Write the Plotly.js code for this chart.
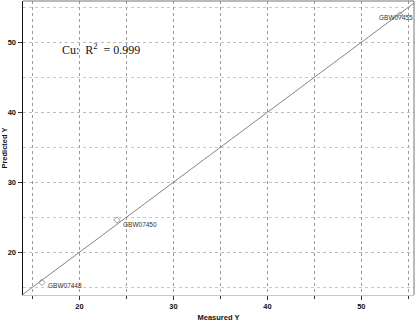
<!DOCTYPE html>
<html>
<head>
<meta charset="utf-8">
<script src="https://cdn.plot.ly/plotly-3.0.1.min.js"></script>
<style>html,body{margin:0;padding:0;background:#fff;}#chart{width:417px;height:322px;}</style>
</head>
<body>
<div id="chart"></div>
<script>
const sampleNames = ["GBW07448", "GBW07450", "GBW07455"];
const measuredY = [16.0, 24.0, 54.1];
const predictedY = [15.7, 24.6, 53.9];
const fitX = [13, 57];
const fitY = [13, 57];
const xTickVals = [20, 30, 40, 50];
const yTickVals = [20, 30, 40, 50];
const r2Text = "Cu:  R<sup>2</sup>  = 0.999";

const labelShift = [[4, -3], [4, -4], [-4, -2]];
const labelAnchor = ["left", "left", "center"];

const traces = [
  {
    x: fitX, y: fitY, mode: "lines", type: "scatter",
    line: {color: "#666666", width: 0.8},
    hoverinfo: "skip", showlegend: false
  },
  {
    x: measuredY, y: predictedY, mode: "markers", type: "scatter",
    marker: {symbol: "diamond-open", size: 5, color: "#999999", line: {width: 1, color: "#999999"}},
    showlegend: false
  }
];

const annotations = sampleNames.map((n, i) => ({
  x: measuredY[i], y: predictedY[i], xref: "x", yref: "y",
  text: n, showarrow: false, xanchor: labelAnchor[i], yanchor: "middle",
  xshift: labelShift[i][0], yshift: labelShift[i][1],
  font: {family: "Arial, Liberation Sans, sans-serif", size: 6.5, color: "#333333"}
}));
annotations.push({
  x: 0.095, y: 0.835, xref: "paper", yref: "paper", text: r2Text,
  showarrow: false, xanchor: "left", yanchor: "middle",
  font: {family: "Liberation Serif, Times New Roman, serif", size: 12, color: "#111111"}
});

const axisCommon = {
  showgrid: true, gridcolor: "#9a9a9a", griddash: "dot", gridwidth: 1,
  zeroline: false, ticks: "outside", ticklen: 4, tickwidth: 1, tickcolor: "#333",
  tickfont: {family: "Arial, Liberation Sans, sans-serif", size: 7.5, color: "#111", weight: "bold"},
  showline: true
};

const layout = {
  width: 417, height: 322,
  margin: {l: 23, r: 3, t: 1, b: 27},
  paper_bgcolor: "#ffffff", plot_bgcolor: "#ffffff",
  xaxis: Object.assign({}, axisCommon, {
    range: [14.0, 55.6], tickvals: xTickVals, linecolor: "#c8c8c8", linewidth: 1,
    minor: {dtick: 5, tick0: 0, showgrid: true, gridcolor: "#9a9a9a", griddash: "dot", ticks: "outside", ticklen: 3, tickcolor: "#333"},
    title: {text: "Measured Y", standoff: 6, font: {family: "Arial, Liberation Sans, sans-serif", size: 7.5, color: "#111", weight: "bold"}}
  }),
  yaxis: Object.assign({}, axisCommon, {
    gridcolor: "#bdbdbd",
    range: [13.9, 55.9], tickvals: yTickVals, linecolor: "#111111", linewidth: 1.5,
    minor: {dtick: 5, tick0: 0, showgrid: true, gridcolor: "#c8c8c8", griddash: "dot", ticks: "", ticklen: 0},
    title: {text: "Predicted Y", standoff: 2, font: {family: "Arial, Liberation Sans, sans-serif", size: 7.5, color: "#111", weight: "bold"}}
  }),
  shapes: [
    {type: "line", xref: "paper", yref: "paper", x0: 0, x1: 1, y0: 1, y1: 1, line: {color: "#777", width: 1}},
    {type: "line", xref: "paper", yref: "paper", x0: 1, x1: 1, y0: 0, y1: 1, line: {color: "#777", width: 1}}
  ],
  annotations: annotations
};

Plotly.newPlot("chart", traces, layout, {displayModeBar: false, staticPlot: true});
</script>
</body>
</html>
